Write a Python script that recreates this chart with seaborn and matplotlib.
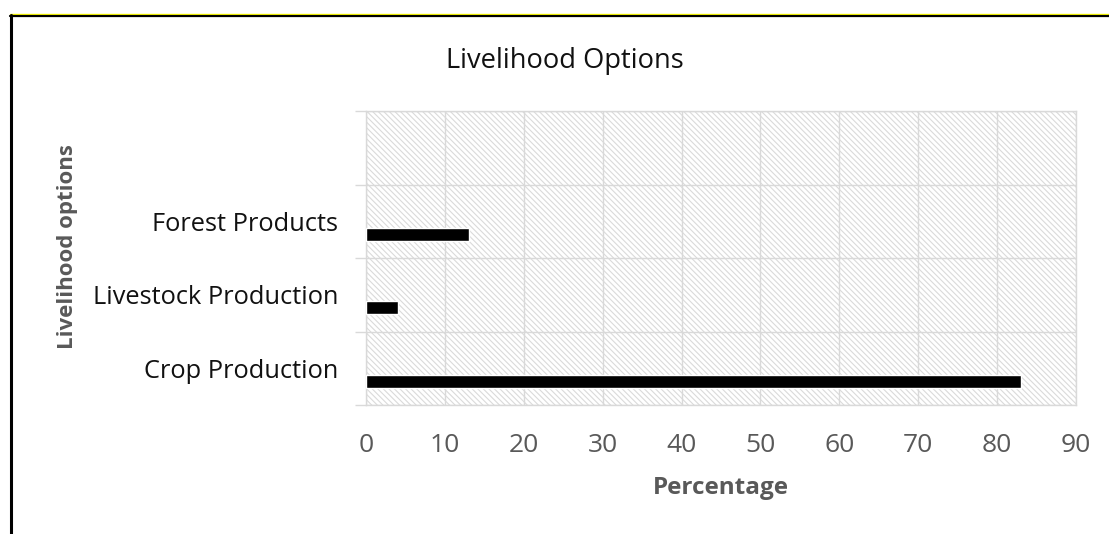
import matplotlib
matplotlib.use("Agg")
import matplotlib.pyplot as plt
from matplotlib.patches import Rectangle
from matplotlib.lines import Line2D
import numpy as np
import pandas as pd
import seaborn as sns

# Livelihood options (top slot is an unlabeled, empty category)
categories = ["", "Forest Products", "Livestock Production", "Crop Production"]
series_names = ["Series 3", "Series 2", "Series 1"]
series3 = [np.nan, np.nan, np.nan, np.nan]
series2 = [np.nan, np.nan, np.nan, np.nan]
series1 = [np.nan, 13, 4, 83]
x_ticks = [0, 10, 20, 30, 40, 50, 60, 70, 80, 90]

rows = []
for name, vals in zip(series_names, [series3, series2, series1]):
    for cat, v in zip(categories, vals):
        rows.append({"Option": cat, "Series": name, "Percentage": v})
df = pd.DataFrame(rows)

sns.set_theme(style="white")
plt.rcParams["font.family"] = ["Open Sans", "DejaVu Sans"]
plt.rcParams["hatch.linewidth"] = 0.8

fig = plt.figure(figsize=(11.09, 5.34), dpi=100)
ax = fig.add_axes([366 / 1109, 1 - 405 / 534, 710 / 1109, 294 / 534])

# hatched plot-area background
bg = Rectangle((0, 0), 1, 1, transform=ax.transAxes, facecolor="white",
               edgecolor="#dadada", hatch="\\" * 6, linewidth=0, zorder=0)
ax.add_patch(bg)

sns.barplot(data=df, y="Option", x="Percentage", hue="Series",
            order=categories, hue_order=series_names,
            palette=["black", "black", "black"], orient="h",
            width=0.527, errorbar=None, legend=False, ax=ax,
            saturation=1, zorder=3)

ax.set_xlim(0, 90)
ax.set_ylim(len(categories) - 0.5, -0.5)
ax.set_xticks(x_ticks)
ax.set_xticklabels([str(t) for t in x_ticks])
ax.set_yticks(range(len(categories)))
ax.set_yticklabels(categories)
ax.set_yticks(np.arange(-0.5, len(categories), 1.0), minor=True)

grid_c = "#d9d9d9"
ax.set_axisbelow(False)
ax.grid(False)
ax.xaxis.grid(True, which="major", color=grid_c, linewidth=1.0, zorder=1)
ax.yaxis.grid(True, which="minor", color=grid_c, linewidth=1.0, zorder=1)
for s in ax.spines.values():
    s.set_visible(True)
    s.set_color(grid_c)
    s.set_linewidth(1.0)

ax.tick_params(axis="x", which="both", length=0, pad=20, labelsize=19,
               labelcolor="#595959")
ax.tick_params(axis="y", which="major", length=0, pad=20, labelsize=18.3,
               labelcolor="#111111")
ax.tick_params(axis="y", which="minor", length=8, width=1.0, color=grid_c,
               left=True)

ax.set_xlabel("")
ax.set_ylabel("")
fig.text(720.5 / 1109, 1 - 488 / 534, "Percentage", ha="center", va="center",
         fontsize=17.5, fontweight="bold", color="#595959")
fig.text(67 / 1109, 1 - 247 / 534, "Livelihood options", ha="center",
         va="center", rotation=90, fontsize=16, fontweight="bold",
         color="#595959")
fig.text(565 / 1109, 1 - 61 / 534, "Livelihood Options", ha="center",
         va="center", fontsize=19.6, color="#111111")

# frame lines around the chart
fig.add_artist(Line2D([10 / 1109, 1], [1 - 14 / 534] * 2, color="#ffff00",
                      linewidth=1.0, transform=fig.transFigure))
fig.add_artist(Line2D([10 / 1109, 1], [1 - 16 / 534] * 2, color="black",
                      linewidth=1.6, transform=fig.transFigure))
fig.add_artist(Line2D([10.5 / 1109] * 2, [0, 1 - 15 / 534], color="black",
                      linewidth=2.2, transform=fig.transFigure))

fig.savefig("out.png", dpi=100, facecolor="white")
